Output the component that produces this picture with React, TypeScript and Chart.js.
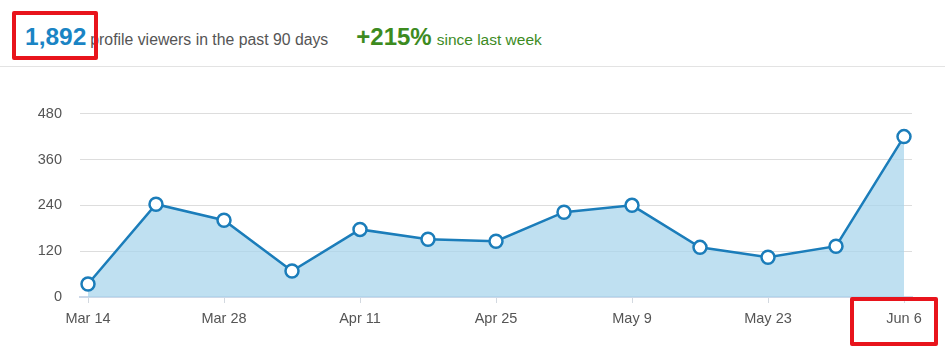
import React, { useEffect, useRef } from "react";
import { Chart, registerables } from "chart.js";

Chart.register(...registerables);

const tickLabels = ["Mar 14", "", "Mar 28", "", "Apr 11", "", "Apr 25", "", "May 9", "", "May 23", "", "Jun 6"];
const weekIndex = [0, 1, 2, 3, 4, 5, 6, 7, 8, 9, 10, 11, 12];
const viewers = [34, 243, 201, 68, 177, 151, 146, 222, 240, 130, 104, 133, 420];
const yTicks = [0, 120, 240, 360, 480];

const FONT = "'Liberation Sans', Arial, Helvetica, sans-serif";

export default function App() {
  const ref = useRef<HTMLCanvasElement | null>(null);

  useEffect(() => {
    if (!ref.current) return;
    const chart = new Chart(ref.current, {
      type: "line",
      data: {
        datasets: [
          {
            data: weekIndex.map((x, i) => ({ x, y: viewers[i] })),
            borderColor: "#1b7dba",
            borderWidth: 2.5,
            backgroundColor: "rgba(166, 212, 236, 0.72)",
            fill: "origin",
            tension: 0,
            pointRadius: 6.5,
            pointBorderWidth: 2.5,
            pointBackgroundColor: "#ffffff",
            pointBorderColor: "#1b7dba",
          },
        ],
      },
      options: {
        animation: false,
        responsive: false,
        maintainAspectRatio: false,
        layout: { autoPadding: false, padding: { top: 0, right: 33, left: 0, bottom: 0 } },
        plugins: { legend: { display: false }, tooltip: { enabled: false } },
        scales: {
          x: {
            type: "linear",
            min: -8 / 68,
            max: 12 + 8 / 68,
            afterBuildTicks: (scale: any) => {
              scale.ticks = weekIndex.filter((i) => tickLabels[i] !== "").map((v) => ({ value: v }));
            },
            afterFit: (scale: any) => {
              scale.height = 58;
            },
            ticks: {
              callback: (v: any) => tickLabels[Math.round(Number(v))] ?? "",
              color: "#555555",
              font: { family: FONT, size: 14.5 },
              padding: 7,
              maxRotation: 0,
              autoSkip: false,
            },
            grid: {
              drawOnChartArea: false,
              drawTicks: true,
              tickLength: 6,
              color: "#d3d9e0",
              lineWidth: 1,
            },
            border: { display: true, color: "#ccd8e8", width: 2 },
          },
          y: {
            min: 0,
            max: 480,
            afterBuildTicks: (scale: any) => {
              scale.ticks = yTicks.map((v) => ({ value: v }));
            },
            afterFit: (scale: any) => {
              scale.width = 80;
            },
            ticks: {
              color: "#555555",
              font: { family: FONT, size: 14.5 },
              padding: 18,
            },
            grid: { color: "#dddddd", lineWidth: 1, drawTicks: false },
            border: { display: false },
          },
        },
      },
    });
    return () => chart.destroy();
  }, []);

  return (
    <div style={{ position: "fixed", left: 0, top: 0, width: 945, height: 355, background: "#ffffff", overflow: "hidden", fontFamily: FONT }}>
      <div style={{ position: "absolute", left: 25, top: 23, whiteSpace: "nowrap", display: "flex", alignItems: "baseline" }}>
        <span style={{ color: "#1a84c4", fontSize: 24.5, fontWeight: 600 }}>1,892</span>
        <span style={{ color: "#555555", fontSize: 15.8, marginLeft: 4 }}>profile viewers in the past 90 days</span>
        <span style={{ color: "#3d8b1f", fontSize: 24, fontWeight: 700, marginLeft: 28 }}>+215%</span>
        <span style={{ color: "#3d8b1f", fontSize: 15.5, marginLeft: 5 }}>since last week</span>
      </div>
      <div style={{ position: "absolute", left: 12, top: 11, width: 78, height: 41, border: "4px solid #e8141c", borderRadius: 2 }} />
      <div style={{ position: "absolute", left: 0, top: 66, width: 945, height: 1, background: "#e3e3e3" }} />
      <canvas ref={ref} width={945} height={268} style={{ position: "absolute", left: 0, top: 87, width: 945, height: 268 }} />
      <div style={{ position: "absolute", left: 850, top: 297, width: 80, height: 41, border: "4px solid #e8141c", borderRadius: 2 }} />
    </div>
  );
}
